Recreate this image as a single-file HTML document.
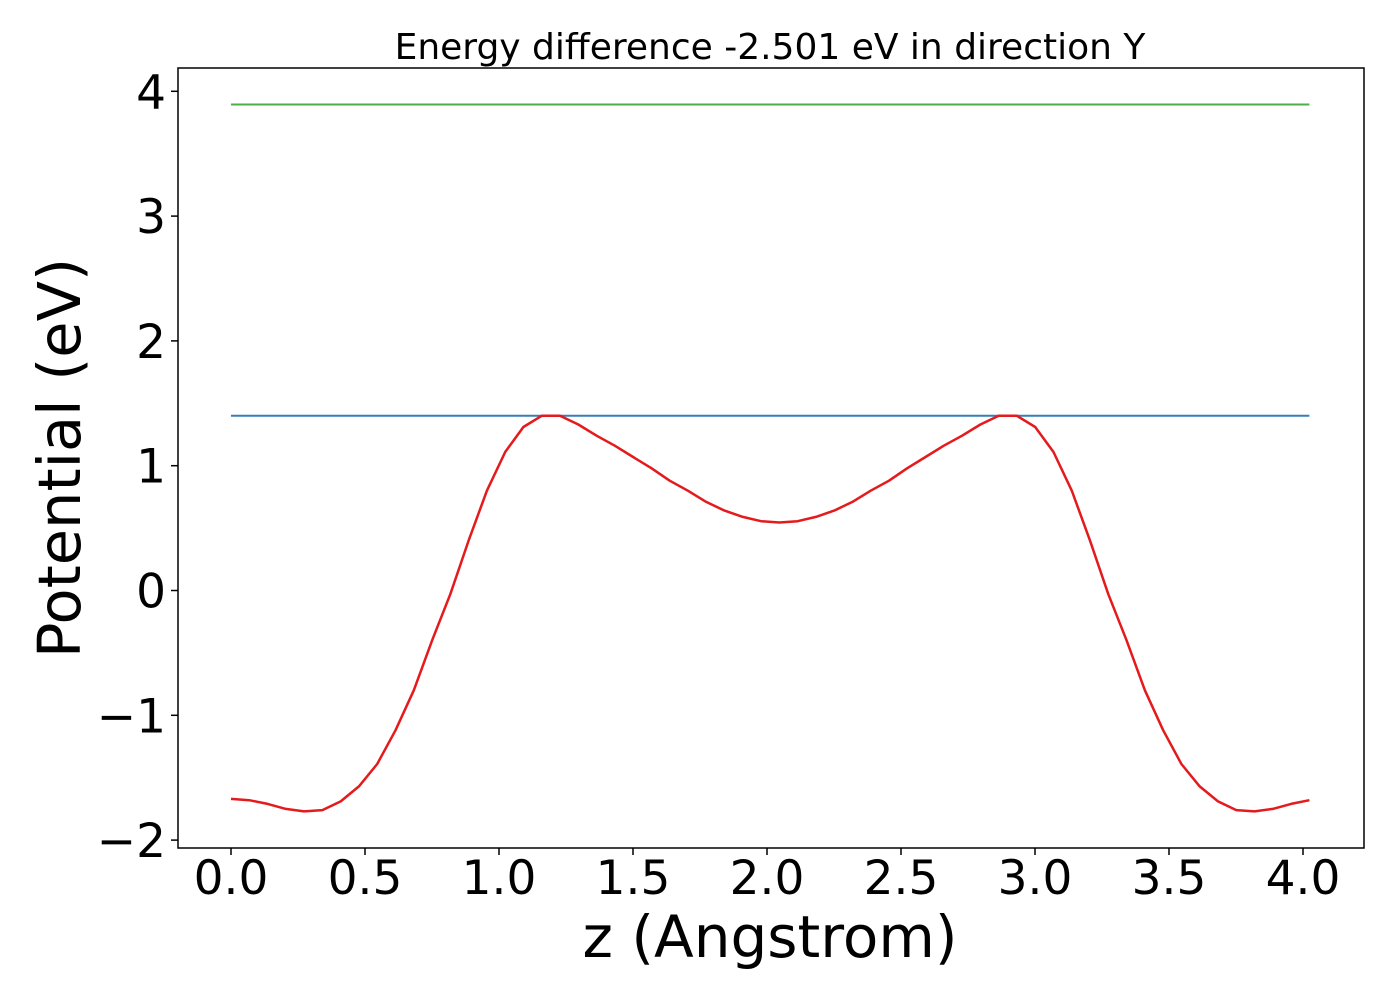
<!DOCTYPE html>
<html><head><meta charset="utf-8"><style>
html,body{margin:0;padding:0;background:#fff;}
svg{display:block;font-family:"DejaVu Sans","Liberation Sans",sans-serif;}
</style></head><body>
<svg id="chart" width="1400" height="1000" viewBox="0 0 1400 1000">
<text x="770" y="59" font-size="36" text-anchor="middle">Energy difference -2.501 eV in direction Y</text>
<g id="plot"></g>
<rect x="178" y="68" width="1186" height="780" fill="none" stroke="#000" stroke-width="1.5"/>
<text x="770" y="957" font-size="58" text-anchor="middle">z (Angstrom)</text>
<text transform="translate(80,458) rotate(-90)" font-size="59" text-anchor="middle">Potential (eV)</text>
</svg>
<script>
const potential = [-1.67,-1.68,-1.71,-1.75,-1.77,-1.76,-1.69,-1.57,-1.39,-1.12,-0.80,-0.40,-0.03,0.40,0.80,1.11,1.31,1.40,1.40,1.33,1.24,1.16,1.07,0.98,0.88,0.80,0.71,0.64,0.59,0.555,0.545,
0.555,0.59,0.64,0.71,0.80,0.88,0.98,1.07,1.16,1.24,1.33,1.40,1.40,1.31,1.11,0.80,0.40,-0.03,-0.40,-0.80,-1.12,-1.39,-1.57,-1.69,-1.76,-1.77,-1.75,-1.71,-1.68];
const zStep = 0.0682;
const levelTop = 3.894;
const levelBarrier = 1.40;
const xTicks = ["0.0","0.5","1.0","1.5","2.0","2.5","3.0","3.5","4.0"];
const yTicks = [-2,-1,0,1,2,3,4];

const NS="http://www.w3.org/2000/svg";
const X = v => 231 + v*268;
const Y = v => 590.5 - v*124.8;
const g = document.getElementById('plot');
const svg = document.getElementById('chart');
function el(tag, attrs, parent){const e=document.createElementNS(NS,tag);for(const k in attrs)e.setAttribute(k,attrs[k]);(parent||g).appendChild(e);return e;}
const zmax = (potential.length-1)*zStep;

const lg = el('line',{x1:X(0),x2:X(zmax),y1:Y(levelTop),y2:Y(levelTop),stroke:'#4daf4a','stroke-width':2});


const lb = el('line',{x1:X(0),x2:X(zmax),y1:Y(levelBarrier),y2:Y(levelBarrier),stroke:'#377eb8','stroke-width':2});


const pts = potential.map((v,i)=>X(i*zStep).toFixed(1)+','+Y(v).toFixed(1)).join(' ');
const pl = el('polyline',{points:pts,fill:'none',stroke:'#e41a1c','stroke-width':2.5,'stroke-linejoin':'round'});



xTicks.forEach(t=>{
  const x=X(parseFloat(t));
  const tk=el('line',{x1:x,x2:x,y1:848,y2:855,stroke:'#000','stroke-width':1.5},svg);
  
  
  const tx=el('text',{x:x,y:894,'font-size':47,'text-anchor':'middle'},svg);
  tx.textContent=t;
  
  
});
yTicks.forEach(t=>{
  const y=Y(t);
  const tk=el('line',{x1:171,x2:178,y1:y,y2:y,stroke:'#000','stroke-width':1.5},svg);
  
  
  const tx=el('text',{x:166,y:y+17,'font-size':47,'text-anchor':'end'},svg);
  tx.textContent=t<0?'\u2212'+Math.abs(t):String(t);
  
  
});
</script>
</body></html>
